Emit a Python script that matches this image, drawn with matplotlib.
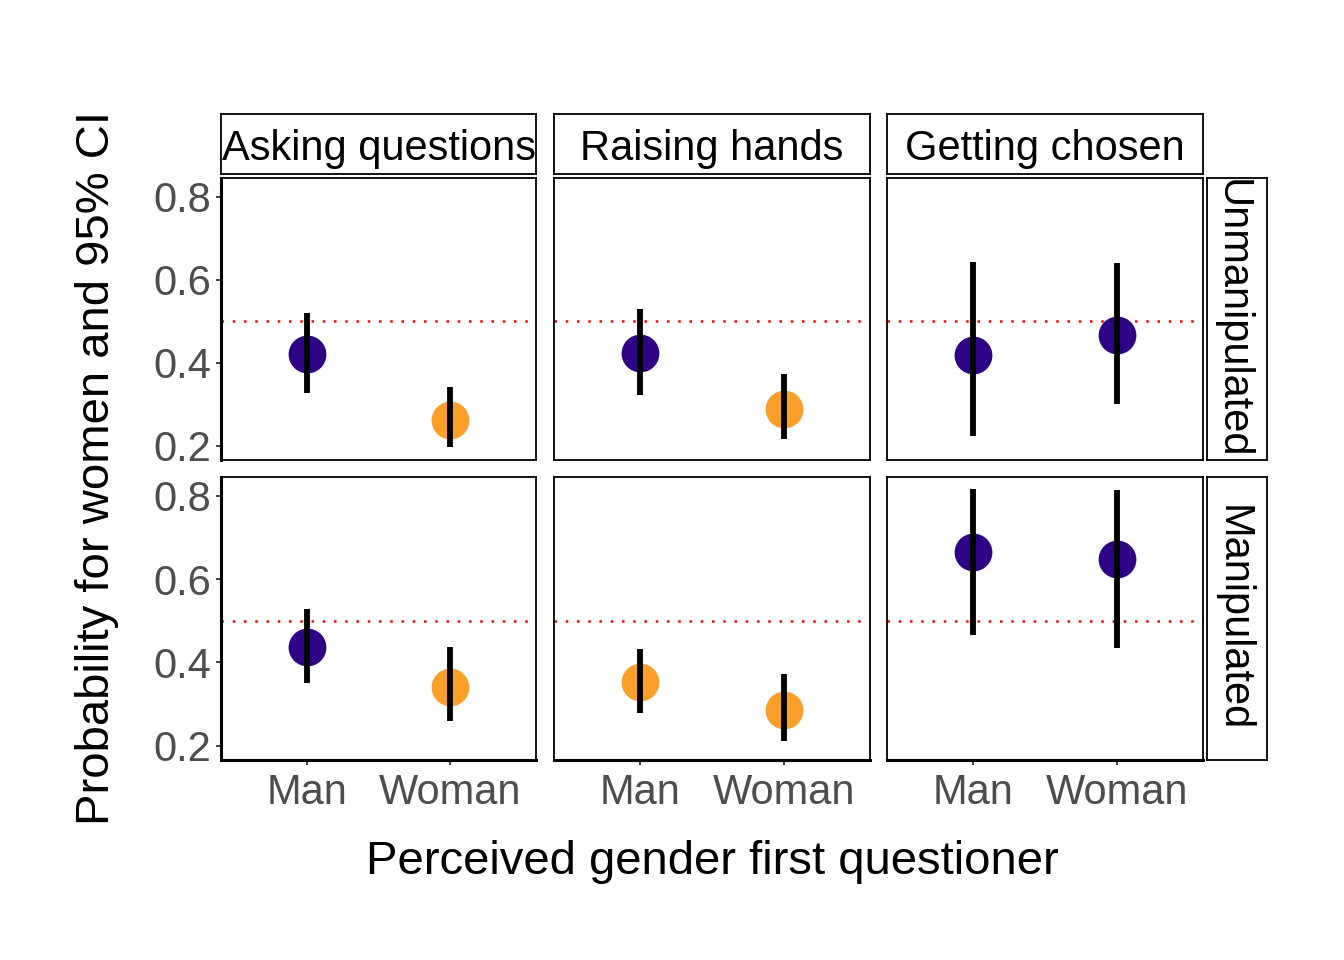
import numpy as np
import matplotlib
matplotlib.use("Agg")
import matplotlib.pyplot as plt

plt.rcParams['font.family'] = ['Liberation Sans', 'DejaVu Sans']

# facet labels and categories
facets = ["Asking questions", "Raising hands", "Getting chosen"]
conditions = ["Unmanipulated", "Manipulated"]
genders = ["Man", "Woman"]

# estimates and 95% CI, one row per facet column: [Man, Woman]
est_unmanip = [[0.420, 0.263], [0.423, 0.289], [0.418, 0.467]]
lo_unmanip = [[0.326, 0.197], [0.323, 0.217], [0.223, 0.301]]
hi_unmanip = [[0.519, 0.341], [0.530, 0.373], [0.642, 0.640]]

est_manip = [[0.438, 0.342], [0.352, 0.286], [0.664, 0.649]]
lo_manip = [[0.351, 0.259], [0.278, 0.212], [0.467, 0.435]]
hi_manip = [[0.529, 0.436], [0.432, 0.373], [0.817, 0.814]]

# colour group per point (0 = purple, 1 = orange)
grp_unmanip = [[0, 1], [0, 1], [0, 0]]
grp_manip = [[0, 1], [1, 1], [0, 0]]

yticks = [0.2, 0.4, 0.6, 0.8]
palette = ["#2E0386", "#F99F2A"]

est = [est_unmanip, est_manip]
lo = [lo_unmanip, lo_manip]
hi = [hi_unmanip, hi_manip]
grp = [grp_unmanip, grp_manip]

W, H = 1344, 960
fig = plt.figure(figsize=(W / 100, H / 100), dpi=100)


def px_axes(x0, y0, x1, y1):
    # pixel box (top-left origin) -> figure axes
    return fig.add_axes([x0 / W, 1 - y1 / H, (x1 - x0) / W, (y1 - y0) / H])


col_x = [(221, 536), (554, 870), (887, 1203)]
row_y = [(178, 459.5), (477, 759.5)]
tick_col = "#333333"
text_grey = "#4D4D4D"

for r in range(2):
    for c in range(3):
        ax = px_axes(col_x[c][0], row_y[r][0], col_x[c][1], row_y[r][1])
        x = np.arange(1, 3)
        for i in range(2):
            ax.scatter(x[i], est[r][c][i], s=740, color=palette[grp[r][c][i]],
                       zorder=3, linewidths=0)
        ax.vlines(x, lo[r][c], hi[r][c], color="black", lw=4.2, zorder=4)
        ax.axhline(0.5, color="red", lw=1.8, ls=(0, (1, 3.5)), zorder=2)
        ax.set_xlim(0.4, 2.6)
        ax.set_ylim(0.167, 0.845)
        for s in ax.spines.values():
            s.set_linewidth(1.3)
        ax.set_xticks(x)
        ax.set_yticks(yticks)
        ax.tick_params(length=3.8, width=1.3, color=tick_col, labelcolor=text_grey,
                       labelsize=30, pad=3)
        ax.tick_params(axis='x', pad=6)
        if c == 0:
            ax.set_yticklabels([f"{v:.1f}" for v in yticks])
            ax.spines['left'].set_linewidth(2.2)
        else:
            ax.tick_params(axis='y', left=False, labelleft=False)
        if r == 1:
            ax.set_xticklabels(genders)
            ax.spines['bottom'].set_linewidth(2.2)
        else:
            ax.tick_params(axis='x', bottom=False, labelbottom=False)

# top strips
for c in range(3):
    sa = px_axes(col_x[c][0], 114, col_x[c][1], 174)
    sa.set_xticks([])
    sa.set_yticks([])
    for s in sa.spines.values():
        s.set_linewidth(1.3)
    sa.text(0.5, 0.41, facets[c], ha="center", va="center", fontsize=30,
            transform=sa.transAxes, clip_on=True)

# right strips
for r in range(2):
    sa = px_axes(1207, row_y[r][0], 1267, row_y[r][1])
    sa.set_xticks([])
    sa.set_yticks([])
    for s in sa.spines.values():
        s.set_linewidth(1.3)
    sa.text(0.42, 0.5, conditions[r], ha="center", va="center", fontsize=30,
            rotation=-90, transform=sa.transAxes, clip_on=True)

fig.text(712 / W, 1 - 862 / H, "Perceived gender first questioner",
         ha="center", va="center", fontsize=34)
fig.text(97 / W, 1 - 468 / H, "Probability for women and 95% CI",
         ha="center", va="center", fontsize=34, rotation=90)

fig.savefig("out.png", dpi=100)
